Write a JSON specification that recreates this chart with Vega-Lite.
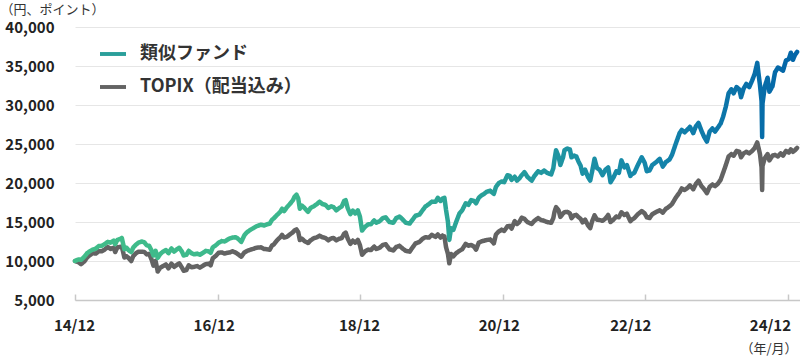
{
"$schema":"https://vega.github.io/schema/vega-lite/v6.json",
"width":725,"height":273,
"autosize":{"type":"none"},
"padding":{"left":75,"top":27,"right":0,"bottom":57},
"config":{"view":{"stroke":null},"font":"Noto Sans CJK JP"},
"data":{"values":[
{"d":"2014-12-15T00:00","fund":10000,"topix":10000},
{"d":"2015-01-01T00:00","fund":10200,"topix":9850},
{"d":"2015-01-15T00:00","fund":10150,"topix":9600},
{"d":"2015-02-01T00:00","fund":10550,"topix":9950},
{"d":"2015-02-15T00:00","fund":11000,"topix":10450},
{"d":"2015-03-01T00:00","fund":11250,"topix":10750},
{"d":"2015-03-15T00:00","fund":11450,"topix":11000},
{"d":"2015-04-01T00:00","fund":11600,"topix":10950},
{"d":"2015-04-15T00:00","fund":11900,"topix":11250},
{"d":"2015-05-01T00:00","fund":11950,"topix":11250},
{"d":"2015-05-15T00:00","fund":12150,"topix":11450},
{"d":"2015-06-01T00:00","fund":12450,"topix":11800},
{"d":"2015-06-15T00:00","fund":12350,"topix":11550},
{"d":"2015-07-01T00:00","fund":12600,"topix":11700},
{"d":"2015-07-09T00:00","fund":12150,"topix":11150},
{"d":"2015-07-20T00:00","fund":12700,"topix":11750},
{"d":"2015-08-01T00:00","fund":12800,"topix":11800},
{"d":"2015-08-12T00:00","fund":12950,"topix":11850},
{"d":"2015-08-25T00:00","fund":11500,"topix":10450},
{"d":"2015-09-05T00:00","fund":11700,"topix":10600},
{"d":"2015-09-15T00:00","fund":11400,"topix":10400},
{"d":"2015-09-29T00:00","fund":11150,"topix":10000},
{"d":"2015-10-10T00:00","fund":11750,"topix":10650},
{"d":"2015-10-24T00:00","fund":12100,"topix":11000},
{"d":"2015-11-05T00:00","fund":12350,"topix":11200},
{"d":"2015-11-24T00:00","fund":12500,"topix":11200},
{"d":"2015-12-05T00:00","fund":12400,"topix":11150},
{"d":"2015-12-18T00:00","fund":12000,"topix":10850},
{"d":"2015-12-30T00:00","fund":11950,"topix":10900},
{"d":"2016-01-12T00:00","fund":11300,"topix":10150},
{"d":"2016-01-21T00:00","fund":10700,"topix":9400},
{"d":"2016-02-01T00:00","fund":11300,"topix":10000},
{"d":"2016-02-12T00:00","fund":10400,"topix":8650},
{"d":"2016-02-25T00:00","fund":10900,"topix":9150},
{"d":"2016-03-10T00:00","fund":11200,"topix":9350},
{"d":"2016-03-25T00:00","fund":11400,"topix":9550},
{"d":"2016-04-07T00:00","fund":11000,"topix":9050},
{"d":"2016-04-22T00:00","fund":11600,"topix":9650},
{"d":"2016-05-06T00:00","fund":11200,"topix":9250},
{"d":"2016-05-20T00:00","fund":11500,"topix":9500},
{"d":"2016-06-01T00:00","fund":11700,"topix":9700},
{"d":"2016-06-15T00:00","fund":11200,"topix":9150},
{"d":"2016-06-24T00:00","fund":10700,"topix":8750},
{"d":"2016-07-08T00:00","fund":10800,"topix":8850},
{"d":"2016-07-20T00:00","fund":11300,"topix":9450},
{"d":"2016-08-03T00:00","fund":11000,"topix":9200},
{"d":"2016-08-17T00:00","fund":10850,"topix":9250},
{"d":"2016-09-01T00:00","fund":10950,"topix":9350},
{"d":"2016-09-15T00:00","fund":10800,"topix":9150},
{"d":"2016-10-01T00:00","fund":11050,"topix":9400},
{"d":"2016-10-15T00:00","fund":11300,"topix":9600},
{"d":"2016-11-01T00:00","fund":11200,"topix":9650},
{"d":"2016-11-09T00:00","fund":11050,"topix":9450},
{"d":"2016-11-20T00:00","fund":11750,"topix":10350},
{"d":"2016-12-05T00:00","fund":12000,"topix":10650},
{"d":"2016-12-20T00:00","fund":12350,"topix":11050},
{"d":"2017-01-05T00:00","fund":12550,"topix":11100},
{"d":"2017-01-20T00:00","fund":12500,"topix":10950},
{"d":"2017-02-01T00:00","fund":12700,"topix":11050},
{"d":"2017-02-15T00:00","fund":12900,"topix":11100},
{"d":"2017-03-01T00:00","fund":13000,"topix":11250},
{"d":"2017-03-15T00:00","fund":13050,"topix":11100},
{"d":"2017-03-25T00:00","fund":12950,"topix":10950},
{"d":"2017-04-15T00:00","fund":12450,"topix":10550},
{"d":"2017-05-01T00:00","fund":13300,"topix":11100},
{"d":"2017-05-15T00:00","fund":13700,"topix":11300},
{"d":"2017-06-01T00:00","fund":14000,"topix":11450},
{"d":"2017-06-15T00:00","fund":14200,"topix":11550},
{"d":"2017-07-01T00:00","fund":14450,"topix":11700},
{"d":"2017-07-25T00:00","fund":14650,"topix":11750},
{"d":"2017-08-10T00:00","fund":14550,"topix":11550},
{"d":"2017-08-25T00:00","fund":14700,"topix":11500},
{"d":"2017-09-08T00:00","fund":14800,"topix":11450},
{"d":"2017-09-20T00:00","fund":15300,"topix":12000},
{"d":"2017-09-30T00:00","fund":15500,"topix":12150},
{"d":"2017-10-15T00:00","fund":15900,"topix":12650},
{"d":"2017-11-01T00:00","fund":16300,"topix":13050},
{"d":"2017-11-10T00:00","fund":16700,"topix":13350},
{"d":"2017-11-21T00:00","fund":16400,"topix":13000},
{"d":"2017-12-05T00:00","fund":16900,"topix":13100},
{"d":"2017-12-20T00:00","fund":17300,"topix":13400},
{"d":"2018-01-05T00:00","fund":17800,"topix":13700},
{"d":"2018-01-12T00:00","fund":18200,"topix":13900},
{"d":"2018-01-23T00:00","fund":18500,"topix":14050},
{"d":"2018-02-01T00:00","fund":18000,"topix":13700},
{"d":"2018-02-09T00:00","fund":16700,"topix":12700},
{"d":"2018-02-20T00:00","fund":17100,"topix":12850},
{"d":"2018-03-05T00:00","fund":16800,"topix":12550},
{"d":"2018-03-23T00:00","fund":16300,"topix":12300},
{"d":"2018-04-05T00:00","fund":16800,"topix":12650},
{"d":"2018-04-20T00:00","fund":17000,"topix":12900},
{"d":"2018-05-08T00:00","fund":17300,"topix":13050},
{"d":"2018-05-21T00:00","fund":17600,"topix":13250},
{"d":"2018-06-05T00:00","fund":17300,"topix":13050},
{"d":"2018-06-20T00:00","fund":17200,"topix":12950},
{"d":"2018-07-05T00:00","fund":16800,"topix":12650},
{"d":"2018-07-20T00:00","fund":17000,"topix":12900},
{"d":"2018-08-01T00:00","fund":16900,"topix":12950},
{"d":"2018-08-15T00:00","fund":16500,"topix":12650},
{"d":"2018-08-30T00:00","fund":16800,"topix":12850},
{"d":"2018-09-12T00:00","fund":17000,"topix":12950},
{"d":"2018-09-24T00:00","fund":17700,"topix":13500},
{"d":"2018-10-02T00:00","fund":17800,"topix":13650},
{"d":"2018-10-12T00:00","fund":16800,"topix":12900},
{"d":"2018-10-26T00:00","fund":16000,"topix":12200},
{"d":"2018-11-08T00:00","fund":16450,"topix":12600},
{"d":"2018-11-20T00:00","fund":16100,"topix":12350},
{"d":"2018-12-03T00:00","fund":16500,"topix":12700},
{"d":"2018-12-14T00:00","fund":15700,"topix":12050},
{"d":"2018-12-25T00:00","fund":13900,"topix":10800},
{"d":"2019-01-10T00:00","fund":14400,"topix":11250},
{"d":"2019-01-25T00:00","fund":14700,"topix":11450},
{"d":"2019-02-08T00:00","fund":14700,"topix":11400},
{"d":"2019-02-25T00:00","fund":15200,"topix":11850},
{"d":"2019-03-08T00:00","fund":14900,"topix":11550},
{"d":"2019-03-25T00:00","fund":15100,"topix":11700},
{"d":"2019-04-10T00:00","fund":15500,"topix":12050},
{"d":"2019-04-25T00:00","fund":15600,"topix":12150},
{"d":"2019-05-14T00:00","fund":15000,"topix":11500},
{"d":"2019-06-03T00:00","fund":14900,"topix":11350},
{"d":"2019-06-18T00:00","fund":15500,"topix":11800},
{"d":"2019-07-05T00:00","fund":15700,"topix":11950},
{"d":"2019-07-18T00:00","fund":15400,"topix":11650},
{"d":"2019-08-06T00:00","fund":14900,"topix":11300},
{"d":"2019-08-26T00:00","fund":14800,"topix":11200},
{"d":"2019-09-10T00:00","fund":15300,"topix":11750},
{"d":"2019-09-25T00:00","fund":15800,"topix":12250},
{"d":"2019-10-15T00:00","fund":15950,"topix":12450},
{"d":"2019-10-31T00:00","fund":16500,"topix":12850},
{"d":"2019-11-15T00:00","fund":17000,"topix":13050},
{"d":"2019-12-03T00:00","fund":17300,"topix":13000},
{"d":"2019-12-17T00:00","fund":17600,"topix":13350},
{"d":"2020-01-06T00:00","fund":17600,"topix":13100},
{"d":"2020-01-17T00:00","fund":18100,"topix":13400},
{"d":"2020-01-31T00:00","fund":17700,"topix":13000},
{"d":"2020-02-10T00:00","fund":18000,"topix":13250},
{"d":"2020-02-20T00:00","fund":18100,"topix":13150},
{"d":"2020-02-28T00:00","fund":16600,"topix":11800},
{"d":"2020-03-09T00:00","fund":15000,"topix":10900},
{"d":"2020-03-16T00:00","fund":12700,"topix":9700},
{"d":"2020-03-25T00:00","fund":14200,"topix":10900},
{"d":"2020-04-06T00:00","fund":14000,"topix":10600},
{"d":"2020-04-20T00:00","fund":15000,"topix":11000},
{"d":"2020-05-07T00:00","fund":16100,"topix":11300},
{"d":"2020-05-21T00:00","fund":16500,"topix":11500},
{"d":"2020-06-08T00:00","fund":17400,"topix":12200},
{"d":"2020-06-22T00:00","fund":17200,"topix":11950},
{"d":"2020-07-06T00:00","fund":17800,"topix":12050},
{"d":"2020-07-20T00:00","fund":17700,"topix":11850},
{"d":"2020-07-31T00:00","fund":17400,"topix":11450},
{"d":"2020-08-14T00:00","fund":18100,"topix":12350},
{"d":"2020-08-27T00:00","fund":18400,"topix":12500},
{"d":"2020-09-10T00:00","fund":18600,"topix":12600},
{"d":"2020-09-25T00:00","fund":18900,"topix":12700},
{"d":"2020-10-12T00:00","fund":19000,"topix":12750},
{"d":"2020-10-30T00:00","fund":18600,"topix":12250},
{"d":"2020-11-10T00:00","fund":19500,"topix":13400},
{"d":"2020-11-25T00:00","fund":20000,"topix":13800},
{"d":"2020-12-09T00:00","fund":20200,"topix":14000},
{"d":"2020-12-22T00:00","fund":20100,"topix":13850},
{"d":"2021-01-08T00:00","fund":21000,"topix":14450},
{"d":"2021-01-20T00:00","fund":20900,"topix":14500},
{"d":"2021-01-29T00:00","fund":20400,"topix":14150},
{"d":"2021-02-14T00:00","fund":20800,"topix":15100},
{"d":"2021-02-26T00:00","fund":20300,"topix":14750},
{"d":"2021-03-10T00:00","fund":20600,"topix":15000},
{"d":"2021-03-22T00:00","fund":21000,"topix":15550},
{"d":"2021-04-05T00:00","fund":21400,"topix":15400},
{"d":"2021-04-20T00:00","fund":20800,"topix":15000},
{"d":"2021-05-12T00:00","fund":20300,"topix":14750},
{"d":"2021-05-26T00:00","fund":20900,"topix":15150},
{"d":"2021-06-14T00:00","fund":21500,"topix":15500},
{"d":"2021-06-30T00:00","fund":21300,"topix":15250},
{"d":"2021-07-15T00:00","fund":21600,"topix":15150},
{"d":"2021-07-30T00:00","fund":21300,"topix":15000},
{"d":"2021-08-20T00:00","fund":21100,"topix":14900},
{"d":"2021-08-31T00:00","fund":21900,"topix":15500},
{"d":"2021-09-06T00:00","fund":23000,"topix":16300},
{"d":"2021-09-14T00:00","fund":24200,"topix":16900},
{"d":"2021-09-27T00:00","fund":23400,"topix":16500},
{"d":"2021-10-06T00:00","fund":22300,"topix":15650},
{"d":"2021-10-20T00:00","fund":23300,"topix":16100},
{"d":"2021-10-27T00:00","fund":24200,"topix":16250},
{"d":"2021-11-10T00:00","fund":24400,"topix":16300},
{"d":"2021-11-24T00:00","fund":24300,"topix":16100},
{"d":"2021-12-02T00:00","fund":23300,"topix":15500},
{"d":"2021-12-15T00:00","fund":23500,"topix":15850},
{"d":"2021-12-27T00:00","fund":23400,"topix":15900},
{"d":"2022-01-06T00:00","fund":22800,"topix":15650},
{"d":"2022-01-18T00:00","fund":22200,"topix":15400},
{"d":"2022-01-28T00:00","fund":21200,"topix":14950},
{"d":"2022-02-10T00:00","fund":21700,"topix":15300},
{"d":"2022-02-24T00:00","fund":20800,"topix":14600},
{"d":"2022-03-08T00:00","fund":20300,"topix":14200},
{"d":"2022-03-18T00:00","fund":21500,"topix":15100},
{"d":"2022-03-30T00:00","fund":23100,"topix":15850},
{"d":"2022-04-12T00:00","fund":21900,"topix":15300},
{"d":"2022-04-25T00:00","fund":21700,"topix":15250},
{"d":"2022-05-10T00:00","fund":21000,"topix":15150},
{"d":"2022-05-25T00:00","fund":21700,"topix":15450},
{"d":"2022-06-08T00:00","fund":22000,"topix":15900},
{"d":"2022-06-20T00:00","fund":20100,"topix":15000},
{"d":"2022-07-05T00:00","fund":20700,"topix":15300},
{"d":"2022-07-20T00:00","fund":21500,"topix":15700},
{"d":"2022-08-02T00:00","fund":21300,"topix":15600},
{"d":"2022-08-15T00:00","fund":22900,"topix":16250},
{"d":"2022-08-30T00:00","fund":22000,"topix":15900},
{"d":"2022-09-12T00:00","fund":22300,"topix":16050},
{"d":"2022-09-30T00:00","fund":20900,"topix":15100},
{"d":"2022-10-05T00:00","fund":21100,"topix":15250},
{"d":"2022-10-20T00:00","fund":21300,"topix":15500},
{"d":"2022-11-07T00:00","fund":22300,"topix":16000},
{"d":"2022-11-27T00:00","fund":23300,"topix":16400},
{"d":"2022-12-12T00:00","fund":22600,"topix":16100},
{"d":"2022-12-23T00:00","fund":21500,"topix":15600},
{"d":"2023-01-06T00:00","fund":21600,"topix":15500},
{"d":"2023-01-20T00:00","fund":22300,"topix":16000},
{"d":"2023-02-10T00:00","fund":22700,"topix":16300},
{"d":"2023-02-27T00:00","fund":23100,"topix":16500},
{"d":"2023-03-15T00:00","fund":22100,"topix":16200},
{"d":"2023-03-31T00:00","fund":22700,"topix":16700},
{"d":"2023-04-18T00:00","fund":23000,"topix":17000},
{"d":"2023-05-01T00:00","fund":23600,"topix":17300},
{"d":"2023-05-20T00:00","fund":25000,"topix":18100},
{"d":"2023-06-09T00:00","fund":26400,"topix":18800},
{"d":"2023-06-20T00:00","fund":26800,"topix":19300},
{"d":"2023-07-05T00:00","fund":26500,"topix":19100},
{"d":"2023-07-21T00:00","fund":26900,"topix":19400},
{"d":"2023-08-01T00:00","fund":27200,"topix":19700},
{"d":"2023-08-18T00:00","fund":26400,"topix":19200},
{"d":"2023-09-01T00:00","fund":27300,"topix":19900},
{"d":"2023-09-14T00:00","fund":27700,"topix":20300},
{"d":"2023-09-29T00:00","fund":26700,"topix":19600},
{"d":"2023-10-13T00:00","fund":25900,"topix":19200},
{"d":"2023-10-27T00:00","fund":25300,"topix":18700},
{"d":"2023-11-10T00:00","fund":26600,"topix":19500},
{"d":"2023-11-24T00:00","fund":27000,"topix":19800},
{"d":"2023-12-08T00:00","fund":26600,"topix":19600},
{"d":"2023-12-22T00:00","fund":27100,"topix":19900},
{"d":"2024-01-05T00:00","fund":27600,"topix":20400},
{"d":"2024-01-18T00:00","fund":28500,"topix":21300},
{"d":"2024-02-01T00:00","fund":29800,"topix":22300},
{"d":"2024-02-15T00:00","fund":31500,"topix":23400},
{"d":"2024-02-29T00:00","fund":32000,"topix":23700},
{"d":"2024-03-12T00:00","fund":31500,"topix":23500},
{"d":"2024-03-27T00:00","fund":32300,"topix":24100},
{"d":"2024-04-10T00:00","fund":32000,"topix":24000},
{"d":"2024-04-19T00:00","fund":31000,"topix":23300},
{"d":"2024-05-02T00:00","fund":32100,"topix":23800},
{"d":"2024-05-16T00:00","fund":32700,"topix":24000},
{"d":"2024-05-31T00:00","fund":32300,"topix":23800},
{"d":"2024-06-14T00:00","fund":33100,"topix":24100},
{"d":"2024-06-28T00:00","fund":34000,"topix":24500},
{"d":"2024-07-11T00:00","fund":35400,"topix":25200},
{"d":"2024-07-25T00:00","fund":32500,"topix":23700},
{"d":"2024-08-02T00:00","fund":30500,"topix":22000},
{"d":"2024-08-05T00:00","fund":25900,"topix":19100},
{"d":"2024-08-07T00:00","fund":30200,"topix":22200},
{"d":"2024-08-19T00:00","fund":32400,"topix":23200},
{"d":"2024-09-02T00:00","fund":33500,"topix":23700},
{"d":"2024-09-11T00:00","fund":31700,"topix":22900},
{"d":"2024-09-27T00:00","fund":32400,"topix":23500},
{"d":"2024-10-10T00:00","fund":34200,"topix":23600},
{"d":"2024-10-25T00:00","fund":34800,"topix":23400},
{"d":"2024-11-08T00:00","fund":34600,"topix":23800},
{"d":"2024-11-20T00:00","fund":34400,"topix":23500},
{"d":"2024-12-05T00:00","fund":35700,"topix":24100},
{"d":"2024-12-20T00:00","fund":35900,"topix":23900},
{"d":"2024-12-30T00:00","fund":36700,"topix":24300},
{"d":"2025-01-10T00:00","fund":35800,"topix":24000},
{"d":"2025-01-20T00:00","fund":36400,"topix":24200},
{"d":"2025-01-31T00:00","fund":36800,"topix":24500}
]},
"transform":[{"fold":["fund","topix"],"as":["series","value"]}],
"encoding":{
"x":{"field":"d","type":"temporal",
"scale":{"domain":[{"year":2014,"month":12,"date":15},{"year":2025,"month":2,"date":15}]},
"axis":{"values":[{"year":2014,"month":12,"date":15},{"year":2016,"month":12,"date":15},{"year":2018,"month":12,"date":15},{"year":2020,"month":12,"date":15},{"year":2022,"month":12,"date":15},{"year":2024,"month":12,"date":15}],
"format":"%y/%m","grid":false,"labelFont":"Noto Sans CJK JP","labelFontSize":15,"labelFontWeight":"bold","labelColor":"#222222","labelFlush":false,"labelOverlap":false,
"labelOffset":{"condition":[{"test":"datum.label == '16/12'","value":-4},{"test":"datum.label == '20/12'","value":-4},{"test":"datum.label == '22/12'","value":-15},{"test":"datum.label == '24/12'","value":-18}],"value":-1},
"tickSize":-6,"tickColor":"#c8c8c8","tickWidth":1.5,"domainColor":"#c8c8c8","domainWidth":1.5,"labelPadding":24,
"title":"（年/月）","titleFont":"Noto Sans CJK JP","titleFontSize":13,"titleFontWeight":"normal","titleColor":"#333333","titleAnchor":"end","titleAlign":"right","titleBaseline":"middle","titleX":722,"titleY":48}},
"y":{"field":"value","type":"quantitative","scale":{"domain":[5000,40000]},
"axis":{"values":[5000,10000,15000,20000,25000,30000,35000,40000],"format":",d","ticks":false,"tickSize":0,"domain":false,"gridColor":"#e6e6e6","gridWidth":1,
"labelFont":"Noto Sans CJK JP","labelFontSize":15,"labelFontWeight":"bold","labelColor":"#222222","labelPadding":21,
"title":"（円、ポイント）","titleFont":"Noto Sans CJK JP","titleFontSize":13,"titleFontWeight":"normal","titleColor":"#333333","titleAngle":0,"titleAlign":"left","titleBaseline":"middle","titleX":-75,"titleY":-18}}
},
"layer":[
{"transform":[{"filter":"datum.series == 'topix'"}],
"mark":{"type":"line","strokeWidth":4.5,"strokeJoin":"round","strokeCap":"round","stroke":"#636363"},
"encoding":{"strokeDash":{"datum":"TOPIX（配当込み）","type":"nominal",
"legend":{"orient":"none","legendX":25,"legendY":47,"direction":"vertical","title":null,"padding":0,
"symbolType":"M-1,-0.15L1,-0.15L1,0.15L-1,0.15Z","symbolSize":676,"symbolStrokeWidth":0,"symbolFillColor":"#636363","labelOffset":14,"labelLimit":400,
"labelFont":"Noto Sans CJK JP","labelFontSize":18,"labelFontWeight":"bold","labelColor":"#333333"}}}},
{"transform":[{"filter":"datum.series == 'fund'"}],
"mark":{"type":"line","strokeWidth":4.5,"strokeJoin":"round","strokeCap":"round",
"stroke":{"gradient":"linear","x1":0,"y1":0,"x2":1,"y2":0,"stops":[{"offset":0,"color":"#41bd89"},{"offset":0.33,"color":"#3bb68e"},{"offset":0.55,"color":"#29a298"},{"offset":0.78,"color":"#1688aa"},{"offset":1,"color":"#0365a8"}]}},
"encoding":{"strokeDash":{"datum":"類似ファンド","type":"nominal",
"legend":{"orient":"none","legendX":25,"legendY":14,"direction":"vertical","title":null,"padding":0,
"symbolType":"M-1,-0.15L1,-0.15L1,0.15L-1,0.15Z","symbolSize":676,"symbolStrokeWidth":0,"symbolFillColor":"#2a9f9a","labelOffset":14,"labelLimit":400,
"labelFont":"Noto Sans CJK JP","labelFontSize":18,"labelFontWeight":"bold","labelColor":"#333333",
"encode":{"symbols":{"fill":{"value":{"gradient":"linear","x1":0,"y1":0,"x2":1,"y2":0,"stops":[{"offset":0,"color":"#41bd89"},{"offset":1,"color":"#0a6aa8"}]}}}}}}}}
],
"resolve":{"scale":{"strokeDash":"independent"},"legend":{"strokeDash":"independent"}}
}
